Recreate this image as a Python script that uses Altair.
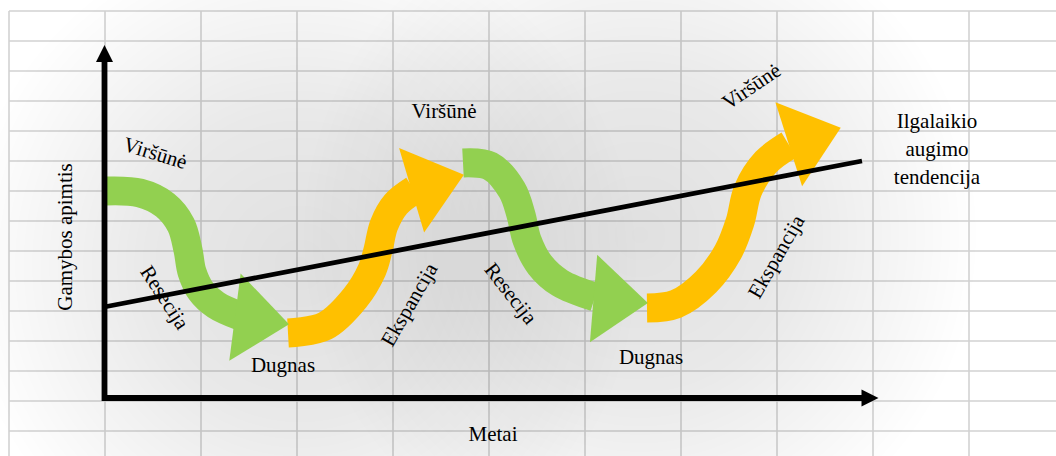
import math
import altair as alt
import pandas as pd

W, H = 1056, 456

# spreadsheet-like background grid
grid_x = [9, 105, 201, 297, 393, 489, 585, 681, 777, 873, 969]
grid_y = [11, 41, 71, 101, 131, 161, 191, 221, 251, 281, 311, 341, 371, 401, 431]

# long-term growth trend line
trend_x = [104, 862]
trend_y = [307, 161]

# axes (origin, top of y axis, end of x axis)
axis_x = [104.5, 104.5, 863]
axis_y = [60, 398, 398]

# cycle arrows: centre lines
green1_x = [106, 140, 165, 181, 188, 192, 201, 216, 240]
green1_y = [191, 193, 205, 225, 250, 272, 291, 305, 316]
yellow1_x = [288, 325, 355, 372, 378, 384, 396, 414]
yellow1_y = [333, 326, 298, 270, 250, 225, 204, 190]
green2_x = [463, 490, 512, 521, 527, 540, 560, 595]
green2_y = [163, 166, 190, 215, 240, 265, 283, 297]
yellow2_x = [647, 676, 706, 728, 740, 748, 766, 789]
yellow2_y = [308, 304, 282, 252, 222, 190, 162, 145]

# arrow heads: base midpoint -> tip
head_base_x = [237, 412.5, 593.5, 786.5]
head_base_y = [317.5, 190, 298.5, 145]
head_tip_x = [287, 463, 648, 843]
head_tip_y = [324, 175, 303, 127]
head_kind = ["Resecija", "Ekspancija", "Resecija", "Ekspancija"]

# axis arrow heads
ax_base_x = [104.5, 861]
ax_base_y = [62, 398]
ax_tip_x = [104.5, 879]
ax_tip_y = [45, 398]

# labels
labels = ["Viršūnė", "Resecija", "Dugnas", "Ekspancija", "Viršūnė", "Resecija",
          "Dugnas", "Ekspancija", "Viršūnė", "Ilgalaikio", "augimo", "tendencija",
          "Metai", "Gamybos  apimtis"]
label_x = [155, 164, 283, 410, 444, 510, 651, 777, 752, 937, 937, 937, 493, 66]
label_y = [154, 298, 366, 305, 112, 294, 358, 257, 87, 122, 150, 178, 435, 237]
label_angle = [17, 57, 0, 300, 0, 52, 0, 300, 326, 0, 0, 0, 0, 270]

SERIF = "Liberation Serif, Times New Roman, DejaVu Serif, serif"

xs = alt.Scale(domain=[0, W], nice=False, zero=False)
ys = alt.Scale(domain=[H, 0], nice=False, zero=False)
kind_scale = alt.Scale(domain=["Resecija", "Ekspancija"], range=["#92D050", "#FFC000"])

# ---- grid
vgrid = pd.DataFrame({"x": grid_x, "y0": 11, "y1": H})
hgrid = pd.DataFrame({"y": grid_y, "x0": 9, "x1": W})
vg = alt.Chart(vgrid).mark_rule(color="#d2d2d2", strokeWidth=1.6).encode(
    x=alt.X("x:Q", scale=xs, axis=None),
    y=alt.Y("y0:Q", scale=ys, axis=None), y2="y1:Q")
hg = alt.Chart(hgrid).mark_rule(color="#d2d2d2", strokeWidth=1.6).encode(
    y=alt.Y("y:Q", scale=ys, axis=None),
    x=alt.X("x0:Q", scale=xs, axis=None), x2="x1:Q")

# ---- soft shadow
shade = pd.DataFrame({"cx": [300, 640], "cy": [265, 235], "r": [340, 340]})
shade["xa"] = shade.cx - shade.r
shade["xb"] = shade.cx + shade.r
shade["ya"] = shade.cy - shade.r
shade["yb"] = shade.cy + shade.r
grad = alt.Gradient(
    gradient="radial", x1=0.5, y1=0.5, r1=0, x2=0.5, y2=0.5, r2=0.5,
    stops=[alt.GradientStop(color="rgba(0,0,0,0.12)", offset=0),
           alt.GradientStop(color="rgba(0,0,0,0.085)", offset=0.45),
           alt.GradientStop(color="rgba(0,0,0,0)", offset=1)])
sh = alt.Chart(shade).mark_rect(fill=grad, strokeWidth=0).encode(
    x=alt.X("xa:Q", scale=xs, axis=None), x2="xb:Q",
    y=alt.Y("ya:Q", scale=ys, axis=None), y2="yb:Q")

# ---- cycle arrows
rows = []
for name, kind, xx, yy in [("g1", "Resecija", green1_x, green1_y),
                           ("y1", "Ekspancija", yellow1_x, yellow1_y),
                           ("g2", "Resecija", green2_x, green2_y),
                           ("y2", "Ekspancija", yellow2_x, yellow2_y)]:
    for i, (a, b) in enumerate(zip(xx, yy)):
        rows.append({"s": name, "kind": kind, "i": i, "x": a, "y": b})
shafts = alt.Chart(pd.DataFrame(rows)).mark_line(
    strokeWidth=29, strokeCap="butt", interpolate="catmull-rom").encode(
    x=alt.X("x:Q", scale=xs, axis=None),
    y=alt.Y("y:Q", scale=ys, axis=None),
    detail="s:N", order="i:Q",
    color=alt.Color("kind:N", scale=kind_scale, legend=None))


def head_frame(bx, by, tx, ty, kind=None):
    d = pd.DataFrame({"bx": bx, "by": by, "tx": tx, "ty": ty})
    d["cx"] = (d.bx + d.tx) / 2
    d["cy"] = (d.by + d.ty) / 2
    d["ang"] = [math.degrees(math.atan2(t2 - b2, t1 - b1)) % 360
                for b1, b2, t1, t2 in zip(d.bx, d.by, d.tx, d.ty)]
    if kind is not None:
        d["kind"] = kind
    return d


heads = alt.Chart(head_frame(head_base_x, head_base_y, head_tip_x, head_tip_y, head_kind)).mark_point(
    shape="M-0.62,-1L0.62,0L-0.62,1Z", filled=True, opacity=1, size=88 * 88, strokeWidth=0).encode(
    x=alt.X("cx:Q", scale=xs, axis=None),
    y=alt.Y("cy:Q", scale=ys, axis=None),
    angle=alt.Angle("ang:Q", scale=None),
    color=alt.Color("kind:N", scale=kind_scale, legend=None))

# ---- trend line
trend = alt.Chart(pd.DataFrame({"x": trend_x, "y": trend_y})).mark_line(
    color="black", strokeWidth=4.8).encode(
    x=alt.X("x:Q", scale=xs, axis=None), y=alt.Y("y:Q", scale=ys, axis=None))

# ---- axes
axes = alt.Chart(pd.DataFrame({"x": axis_x, "y": axis_y, "i": [0, 1, 2]})).mark_line(
    color="black", strokeWidth=5.8, strokeJoin="miter").encode(
    x=alt.X("x:Q", scale=xs, axis=None), y=alt.Y("y:Q", scale=ys, axis=None), order="i:Q")
ax_heads = alt.Chart(head_frame(ax_base_x, ax_base_y, ax_tip_x, ax_tip_y)).mark_point(
    shape="M-1,-1L1,0L-1,1Z", filled=True, opacity=1, size=17 * 17, color="black", strokeWidth=0).encode(
    x=alt.X("cx:Q", scale=xs, axis=None),
    y=alt.Y("cy:Q", scale=ys, axis=None),
    angle=alt.Angle("ang:Q", scale=None))

# ---- labels
lab = pd.DataFrame({"t": labels, "x": label_x, "y": label_y, "ang": label_angle})
texts = alt.Chart(lab).mark_text(
    font=SERIF, fontSize=21, color="black", align="center", baseline="middle").encode(
    x=alt.X("x:Q", scale=xs, axis=None),
    y=alt.Y("y:Q", scale=ys, axis=None),
    text="t:N",
    angle=alt.Angle("ang:Q", scale=None))

chart = alt.layer(vg, hg, sh, shafts, heads, trend, axes, ax_heads, texts).properties(
    width=W, height=H, padding=0,
    autosize=alt.AutoSizeParams(type="none"),
    background="white",
).configure_view(stroke=None)

chart.save("out.html", embed_options={"renderer": "svg", "actions": False})
